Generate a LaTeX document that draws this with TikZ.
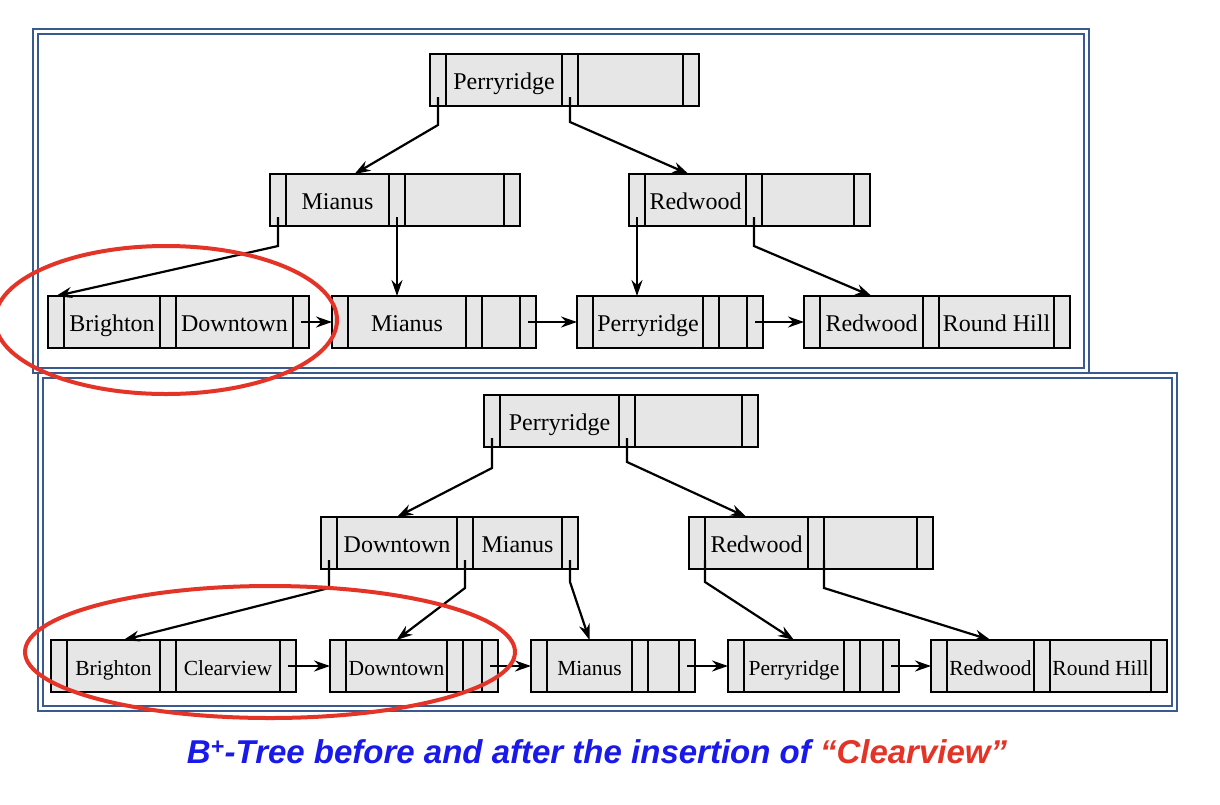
\documentclass[tikz,border=0pt]{standalone}
\usepackage{fontspec}
\setmainfont{Liberation Serif}
\newfontfamily\capfont{Liberation Sans}
\usetikzlibrary{arrows.meta, positioning}
\definecolor{FrameBlue}{RGB}{58, 90, 143}
\definecolor{CellGrey}{RGB}{230, 230, 230}
\definecolor{RingRed}{RGB}{228, 52, 40}
\definecolor{CapBlue}{RGB}{25, 25, 235}

\tikzset{
    bcell/.style={draw=black, line width=2.2pt, fill=CellGrey, inner sep=0pt, outer sep=0pt, minimum height=52pt},
    ptrcell/.style={bcell, minimum width=16pt},
    keycell/.style={bcell, font=\fontsize{24}{26}\selectfont, text height=21pt, text depth=3pt},
    leafkey/.style={font=\fontsize{21.5}{24}\selectfont},
    frame/.style={draw=FrameBlue, line width=2pt, double=white, double distance=3pt},
    link/.style={line width=2.2pt, -{Stealth[length=16pt, width=11pt]}},
    redring/.style={draw=RingRed, line width=4pt}
}

% B+-tree node: pointer | key | pointer | key | pointer
% #1: extra style, #2: name, #3,#4: top left corner, #5,#6: key widths, #7,#8: keys
\newcommand{\bpnode}[8][]{
    \node[ptrcell, #1, anchor=north west] (#2-p0) at (#3, #4) {};
    \node[keycell, #1, minimum width=#5pt, right=0pt of #2-p0] (#2-k1) {#7};
    \node[ptrcell, #1, right=0pt of #2-k1] (#2-p1) {};
    \node[keycell, #1, minimum width=#6pt, right=0pt of #2-p1] (#2-k2) {#8};
    \node[ptrcell, #1, right=0pt of #2-k2] (#2-p2) {};
}

\begin{document}
\begin{tikzpicture}[x={(1pt,0)}, y={(0,-1pt)}]

    \useasboundingbox (0,0) rectangle (1220,804);

    % Frames
    \draw[frame] (35.5,31.5) rectangle (1086.5,370.5);
    \draw[frame] (40.5,375.5) rectangle (1174.5,708.5);

    % --- TREE BEFORE INSERTION ---
    \bpnode{t-root}{430}{54}{116}{105}{Perryridge}{}
    \bpnode{t-mi}{270}{174}{103}{99}{Mianus}{}
    \bpnode{t-rw}{629}{174}{101}{92}{Redwood}{}
    \bpnode{t-l1}{48}{296}{96}{117}{Brighton}{Downtown}
    \bpnode{t-l2}{332}{296}{118}{38}{Mianus}{}
    \bpnode{t-l3}{577}{296}{110}{28}{Perryridge}{}
    \bpnode{t-l4}{804}{296}{103}{115}{Redwood}{Round Hill}

    \draw[link] ([yshift=9pt]t-root-p0.south) -- ++(0,28) -- ([xshift=17pt]t-mi-k1.north);
    \draw[link] ([yshift=9pt]t-root-p1.south) -- ++(0,25) -- ([xshift=-7pt]t-rw-k1.north);
    \draw[link] ([yshift=9pt]t-mi-p0.south) -- ++(0,29) -- (t-l1-p0.north);
    \draw[link] ([yshift=9pt]t-mi-p1.south) -- (t-mi-p1.south |- t-l2-k1.north);
    \draw[link] ([yshift=9pt]t-rw-p0.south) -- (t-rw-p0.south |- t-l3-k1.north);
    \draw[link] ([yshift=9pt]t-rw-p1.south) -- ++(0,29) -- (t-l4-k1.north);

    % leaf chain
    \foreach \a/\b in {t-l1/t-l2, t-l2/t-l3, t-l3/t-l4} {
        \draw[link] (\a-p2.center) -- (\b-p0.west);
    }

    % --- TREE AFTER INSERTION ---
    \bpnode{b-root}{484}{395}{119}{107}{Perryridge}{}
    \bpnode{b-dm}{321}{517}{120}{89}{Downtown}{Mianus}
    \bpnode{b-rw}{689}{517}{103}{93}{Redwood}{}
    \bpnode[leafkey]{b-l1}{51}{640}{93}{104}{Brighton}{Clearview}
    \bpnode[leafkey]{b-l2}{330}{640}{101}{19}{Downtown}{}
    \bpnode[leafkey]{b-l3}{531}{640}{85}{31}{Mianus}{}
    \bpnode[leafkey]{b-l4}{728}{640}{100}{23}{Perryridge}{}
    \bpnode[leafkey]{b-l5}{931}{640}{87}{101}{Redwood}{Round Hill}

    \draw[link] ([yshift=9pt]b-root-p0.south) -- ++(0,30) -- (b-dm-k1.north);
    \draw[link] ([yshift=9pt]b-root-p1.south) -- ++(0,24) -- ([xshift=-10pt]b-rw-k1.north);
    \draw[link] ([yshift=9pt]b-dm-p0.south) -- ++(0,28) -- ([xshift=10pt]b-l1-k1.north);
    \draw[link] ([yshift=9pt]b-dm-p1.south) -- ++(0,28) -- (b-l2-k1.north);
    \draw[link] ([yshift=9pt]b-dm-p2.south) -- ++(0,22) -- (b-l3-k1.north);
    \draw[link] ([yshift=9pt]b-rw-p0.south east) -- ++(0,22) -- (b-l4-k1.north);
    \draw[link] ([yshift=9pt]b-rw-p1.south east) -- ++(0,28) -- (b-l5-k1.north);

    % leaf chain
    \foreach \a/\b in {b-l1/b-l2, b-l2/b-l3, b-l3/b-l4, b-l4/b-l5} {
        \draw[link] (\a-p2.center) -- (\b-p0.west);
    }

    % Highlight rings
    \draw[redring] (166,320) ellipse [x radius=171, y radius=74];
    \draw[redring] (270,652) ellipse [x radius=245, y radius=66];

    % Caption
    \node[font=\capfont\bfseries\itshape\fontsize{33}{36}\selectfont, text=CapBlue] (caption) at (597,752)
        {B\textsuperscript{+}-Tree before and after the insertion of \textcolor{RingRed}{“Clearview”}};

\end{tikzpicture}
\end{document}
